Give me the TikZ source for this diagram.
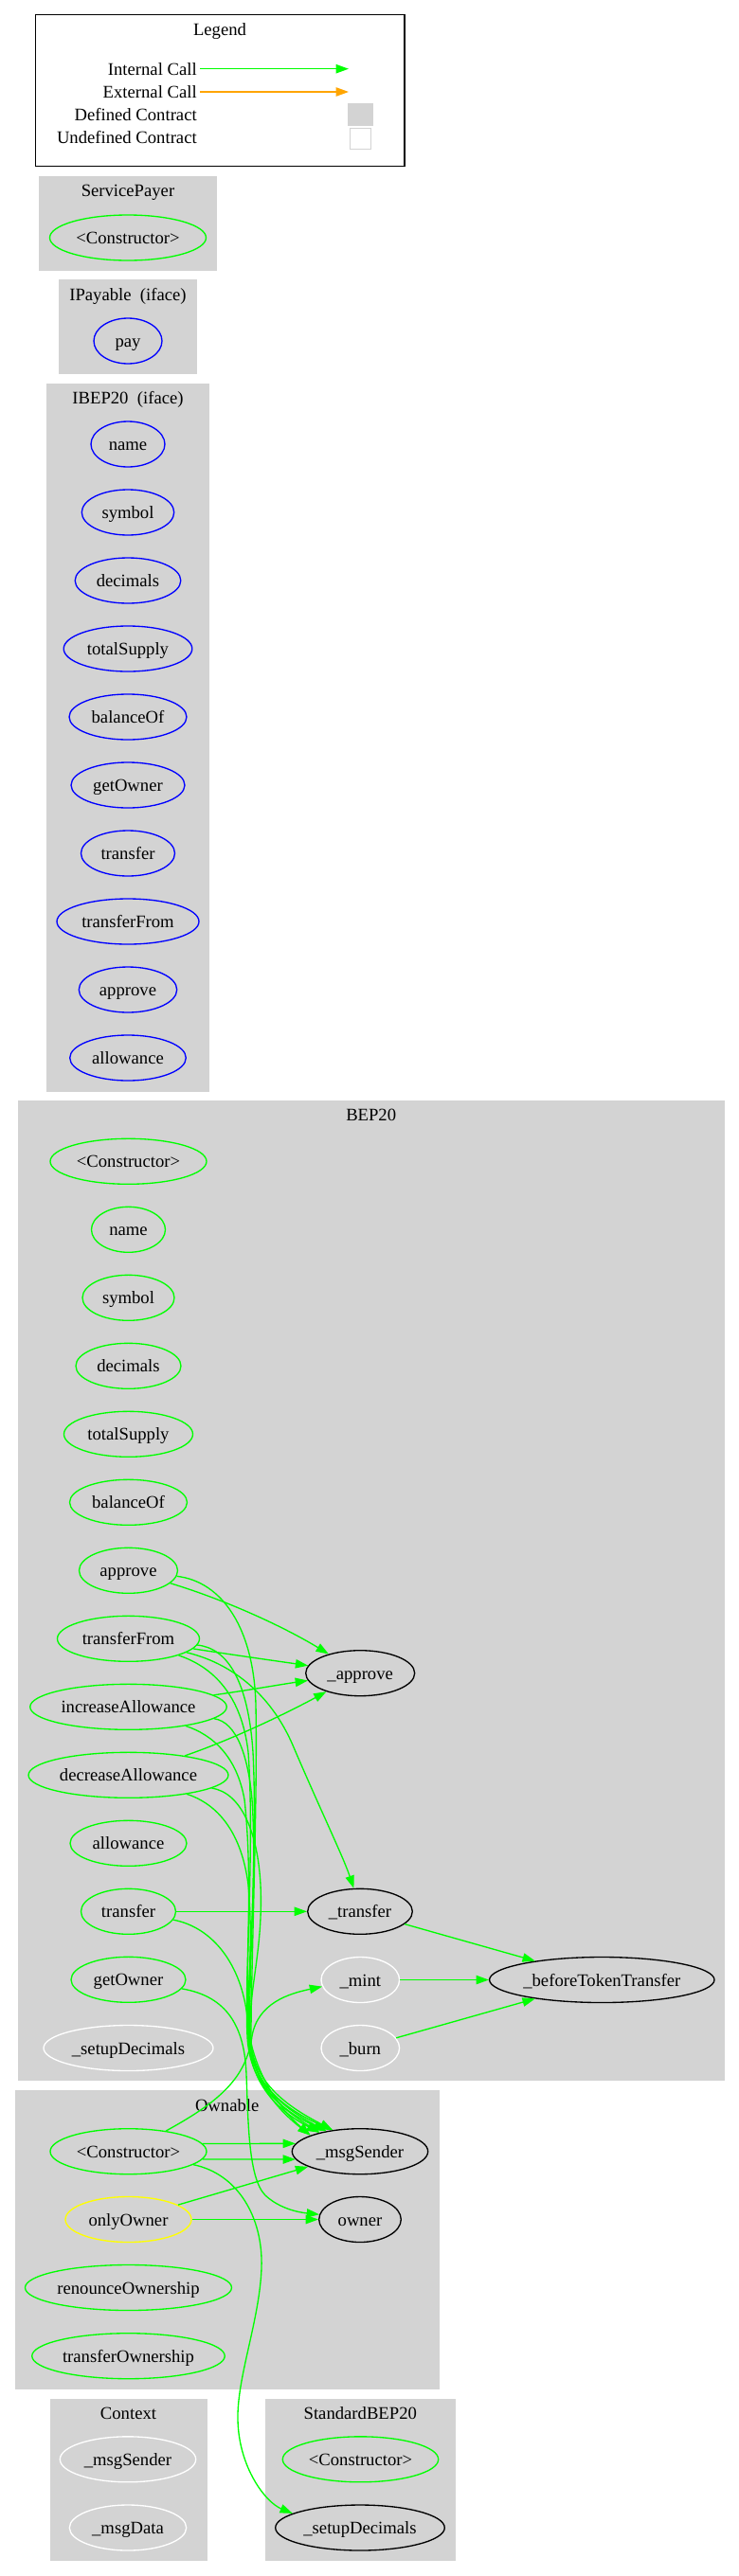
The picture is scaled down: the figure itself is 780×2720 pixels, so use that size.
\documentclass[tikz,border=0pt]{standalone}
\usepackage{fontspec}
\setmainfont{Liberation Serif}
\usetikzlibrary{shapes.geometric,arrows.meta}
\definecolor{gvgreen}{RGB}{0,255,0}
\definecolor{gvgray}{RGB}{211,211,211}
\definecolor{gvorange}{RGB}{255,165,0}
\definecolor{gvblue}{RGB}{0,0,255}
\definecolor{gvyellow}{RGB}{255,255,0}
\begin{document}
\begin{tikzpicture}[x=0.75pt,y=-0.75pt,font=\fontsize{14pt}{16pt}\selectfont,
  fn/.style={ellipse, inner sep=0pt, minimum height=36pt, text height=10pt, text depth=0pt, line width=1pt},
  hw/.style={minimum width=#1*1.5pt},
  gn/.style={fn, draw=gvgreen},
  bn/.style={fn, draw=gvblue},
  wn/.style={fn, draw=white},
  kn/.style={fn, draw=black},
  yn/.style={fn, draw=gvyellow},
  lbl/.style={inner sep=0pt, text height=10pt, text depth=0pt},
  cluster/.style={fill=gvgray},
  call/.style={draw=gvgreen, line width=1pt, -{Triangle[length=10pt,width=7pt]}}]
\useasboundingbox (0,0) rectangle (780,2720);
\fill[white] (0,0) rectangle (780,2720);

% ---------- Legend ----------
\draw[line width=1pt] (37.7,15.7) rectangle (427,175.7);
\node[lbl] (legTitle) at (232,31) {Legend};
\node[lbl, anchor=east] (legInt) at (208,72.7) {Internal Call};
\node[lbl, anchor=east] (legExt) at (208,97) {External Call};
\node[lbl, anchor=east] (legDef) at (208,121) {Defined Contract};
\node[lbl, anchor=east] (legUndef) at (208,145) {Undefined Contract};
\coordinate (legIntEnd) at (368,72.7);
\coordinate (legExtEnd) at (368,97);
\draw[call] ([xshift=2.25pt]legInt.east) -- (legIntEnd);
\draw[call, draw=gvorange] ([xshift=2.25pt]legExt.east) -- (legExtEnd);
\fill[gvgray] (367,109.3) rectangle (393.7,132.7);
\draw[gvgray, fill=white, line width=1pt] (369.3,135.3) rectangle (391.3,157.3);

% ---------- Clusters ----------
\fill[cluster] (41,186) rectangle (228.7,285.7);
\fill[cluster] (62.3,295) rectangle (207.7,395);
\fill[cluster] (49,404.6) rectangle (221,1152.6);
\fill[cluster] (18.5,1162) rectangle (765,2197.3);
\fill[cluster] (15.5,2206.7) rectangle (464,2522.7);
\fill[cluster] (52.5,2532.7) rectangle (218.5,2704.3);
\fill[cluster] (280,2532.7) rectangle (480.5,2704.3);

\node[lbl] (tSP) at (135,200.5) {ServicePayer};
\node[lbl] (tIP) at (135,310.5) {IPayable~~(iface)};
\node[lbl] (tIB) at (135,420) {IBEP20~~(iface)};
\node[lbl] (tB) at (391.7,1177) {BEP20};
\node[lbl] (tO) at (239.7,2222.5) {Ownable};
\node[lbl] (tC) at (135.5,2548) {Context};
\node[lbl] (tS) at (380.3,2548) {StandardBEP20};

% ---------- ServicePayer / IPayable ----------
\node[gn, hw=82.5] (spCtor) at (135,251) {<Constructor>};
\node[bn, hw=36] (ipPay) at (135,360) {pay};

% ---------- IBEP20 ----------
\node[bn, hw=39]   (ibName)     at (135,469) {name};
\node[bn, hw=48.7] (ibSymbol)   at (135,541) {symbol};
\node[bn, hw=55.8] (ibDecimals) at (135,613) {decimals};
\node[bn, hw=67.8] (ibTotal)    at (135,685) {totalSupply};
\node[bn, hw=62]   (ibBalance)  at (135,757) {balanceOf};
\node[bn, hw=60]   (ibGetOwner) at (135,829) {getOwner};
\node[bn, hw=49.5] (ibTransfer) at (135,901) {transfer};
\node[bn, hw=75]   (ibTFrom)    at (135,973) {transferFrom};
\node[bn, hw=51.7] (ibApprove)  at (135,1045) {approve};
\node[bn, hw=61.3] (ibAllow)    at (135,1117) {allowance};

% ---------- BEP20 ----------
\node[gn, hw=82.5]  (bCtor)     at (135.5,1226.3) {<Constructor>};
\node[gn, hw=39]    (bName)     at (135.5,1298.3) {name};
\node[gn, hw=48.5]  (bSymbol)   at (135.5,1370.3) {symbol};
\node[gn, hw=55.5]  (bDecimals) at (135.5,1442.3) {decimals};
\node[gn, hw=68]    (bTotal)    at (135.5,1514.3) {totalSupply};
\node[gn, hw=62]    (bBalance)  at (135.5,1586.3) {balanceOf};
\node[gn, hw=52]    (bApprove)  at (135.5,1658.3) {approve};
\node[gn, hw=75]    (bTFrom)    at (135.5,1730.3) {transferFrom};
\node[gn, hw=103.75] (bInc)     at (135.5,1802.3) {increaseAllowance};
\node[gn, hw=105.5] (bDec)      at (135.5,1874.3) {decreaseAllowance};
\node[gn, hw=61.5]  (bAllow)    at (135.5,1946.3) {allowance};
\node[gn, hw=50]    (bTransfer) at (135.5,2018.3) {transfer};
\node[gn, hw=60.5]  (bGetOwner) at (135.5,2090.3) {getOwner};
\node[wn, hw=89.5]  (bSetup)    at (135.5,2162.5) {\_setupDecimals};
\node[kn, hw=57.5]  (bIApprove) at (380.2,1766.7) {\_approve};
\node[kn, hw=55.3]  (bITransfer) at (380,2018.3) {\_transfer};
\node[wn, hw=41.3]  (bIMint)    at (380.3,2090.5) {\_mint};
\node[wn, hw=41.3]  (bIBurn)    at (380.3,2162.5) {\_burn};
\node[kn, hw=118.7] (bIBefore)  at (635.3,2090.5) {\_beforeTokenTransfer};

% ---------- Ownable ----------
\node[gn, hw=82.5]   (oCtor)      at (135.5,2271.7) {<Constructor>};
\node[yn, hw=66.5]   (oOnly)      at (135.5,2343.5) {onlyOwner};
\node[gn, hw=109]    (oRenounce)  at (135.5,2415.5) {renounceOwnership};
\node[gn, hw=101.75] (oTOwner)    at (135.5,2487.7) {transferOwnership};
\node[kn, hw=71.7]   (oMsgSender) at (380,2271.7) {\_msgSender};
\node[kn, hw=43.3]   (oOwner)     at (380,2343.5) {owner};

% ---------- Context / StandardBEP20 ----------
\node[wn, hw=71.7] (cMsgSender) at (135,2596.8) {\_msgSender};
\node[wn, hw=61.7] (cMsgData)   at (135,2669) {\_msgData};
\node[gn, hw=82.2] (sCtor)      at (380.5,2596.8) {<Constructor>};
\node[kn, hw=89.3] (sSetup)     at (380,2669) {\_setupDecimals};

% ---------- Edges ----------
\draw[call] (bApprove) .. controls (240,1690) and (300,1718) .. (bIApprove);
\draw[call] (bTFrom) .. controls (250,1748) and (300,1755) .. (bIApprove);
\draw[call] (bInc) .. controls (260,1785) and (300,1778) .. (bIApprove);
\draw[call] (bDec) .. controls (250,1835) and (310,1805) .. (bIApprove);
\draw[call] (bTFrom) .. controls (240,1755) and (285,1785) .. (310,1845)
  .. controls (340,1915) and (362,1960) .. (bITransfer.105);
\draw[call] (bTransfer) -- (bITransfer);
\draw[call] (bITransfer) -- (bIBefore);
\draw[call] (bIMint) -- (bIBefore);
\draw[call] (bIBurn) -- (bIBefore);

% bundle to _msgSender
\draw[call] (bApprove) .. controls (235,1670) and (268,1720) .. (270,1800)
  .. controls (272,1900) and (265,2080) .. (265,2150)
  .. controls (265,2195) and (290,2225) .. (oMsgSender.162);
\draw[call] (bTFrom) .. controls (240,1740) and (262,1775) .. (267,1850)
  .. controls (272,1950) and (262,2080) .. (264,2150)
  .. controls (266,2200) and (295,2225) .. (oMsgSender.155);
\draw[call] (bTFrom) .. controls (225,1760) and (255,1790) .. (262,1850)
  .. controls (269,1950) and (258,2080) .. (262,2150)
  .. controls (264,2200) and (292,2228) .. (oMsgSender.155);
\draw[call] (bInc) .. controls (250,1818) and (262,1855) .. (266,1900)
  .. controls (272,1990) and (260,2090) .. (263,2150)
  .. controls (266,2200) and (298,2225) .. (oMsgSender.149);
\draw[call] (bInc) .. controls (225,1832) and (250,1855) .. (258,1900)
  .. controls (268,1990) and (258,2090) .. (261,2150)
  .. controls (263,2200) and (296,2228) .. (oMsgSender.149);
\draw[call] (bDec) .. controls (255,1893) and (272,1935) .. (275,1990)
  .. controls (278,2060) and (262,2100) .. (264,2150)
  .. controls (266,2200) and (305,2225) .. (oMsgSender.142);
\draw[call] (bDec) .. controls (230,1905) and (255,1935) .. (262,1990)
  .. controls (268,2060) and (260,2100) .. (262,2150)
  .. controls (264,2200) and (302,2228) .. (oMsgSender.142);
\draw[call] (bTransfer) .. controls (225,2035) and (255,2075) .. (261,2130)
  .. controls (264,2180) and (290,2222) .. (oMsgSender.162);

% getOwner -> owner
\draw[call] (bGetOwner) .. controls (240,2108) and (258,2140) .. (260,2190)
  .. controls (262,2240) and (262,2300) .. (280,2318)
  .. controls (295,2332) and (315,2336) .. (oOwner.173);

% Ownable constructor
\draw[call] (oCtor) .. controls (230,2220) and (260,2195) .. (266,2150)
  .. controls (272,2115) and (305,2105) .. (bIMint.190);
\draw[call] (oCtor) .. controls (250,2295) and (278,2340) .. (276,2395)
  .. controls (274,2450) and (250,2510) .. (251,2555)
  .. controls (252,2605) and (280,2642) .. (sSetup.168);
\draw[call] (oCtor.6) -- (oMsgSender.173);
\draw[call] (oCtor.354) -- (oMsgSender.187);
\draw[call] (oOnly) -- (oMsgSender);
\draw[call] (oOnly) -- (oOwner);
\end{tikzpicture}
\end{document}
